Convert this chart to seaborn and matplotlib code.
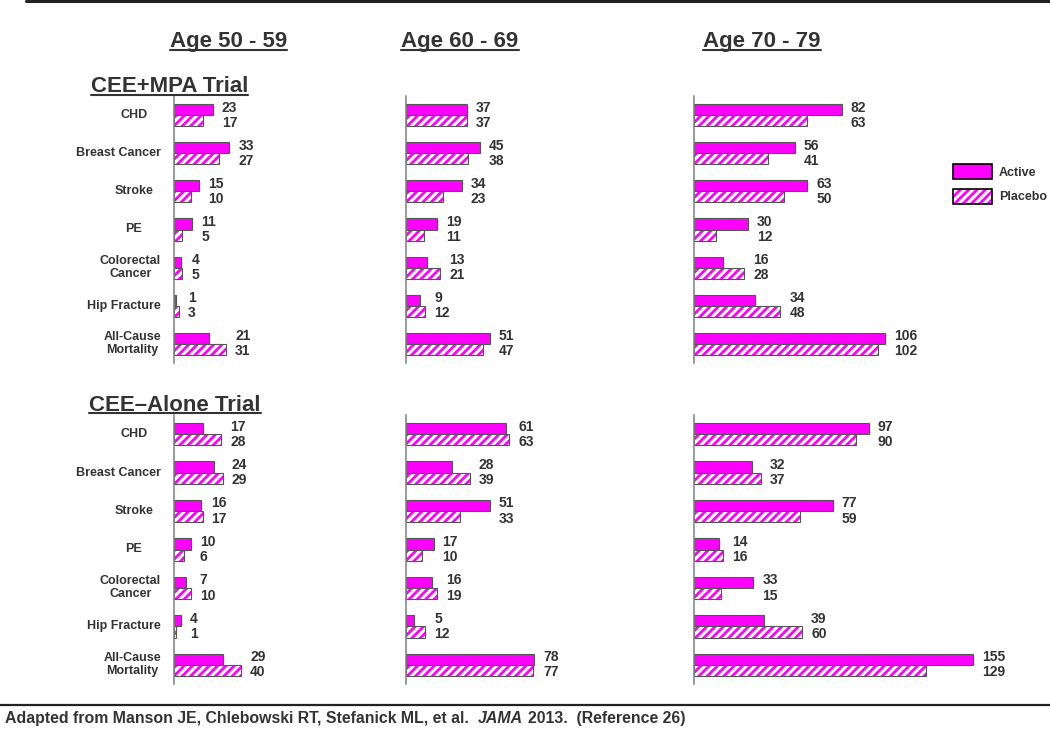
import numpy as np
import pandas as pd
import matplotlib
matplotlib.use("Agg")
import matplotlib.pyplot as plt
import matplotlib.transforms as mtransforms
from matplotlib.patches import Patch, Rectangle
from matplotlib.legend_handler import HandlerTuple
from matplotlib.lines import Line2D
import seaborn as sns

categories = ["CHD", "Breast Cancer", "Stroke", "PE", "Colorectal\nCancer",
              "Hip Fracture", "All-Cause\nMortality"]
age_groups = ["Age 50 - 59", "Age 60 - 69", "Age 70 - 79"]
trials = ["CEE+MPA Trial", "CEE\u2013Alone Trial"]
groups = ["Active", "Placebo"]

# CEE+MPA trial
mpa_50_active = [23, 33, 15, 11, 4, 1, 21]
mpa_50_placebo = [17, 27, 10, 5, 5, 3, 31]
mpa_60_active = [37, 45, 34, 19, 13, 9, 51]
mpa_60_placebo = [37, 38, 23, 11, 21, 12, 47]
mpa_70_active = [82, 56, 63, 30, 16, 34, 106]
mpa_70_placebo = [63, 41, 50, 12, 28, 48, 102]

# CEE-alone trial
cee_50_active = [17, 24, 16, 10, 7, 4, 29]
cee_50_placebo = [28, 29, 17, 6, 10, 1, 40]
cee_60_active = [61, 28, 51, 17, 16, 5, 78]
cee_60_placebo = [63, 39, 33, 10, 19, 12, 77]
cee_70_active = [97, 32, 77, 14, 33, 39, 155]
cee_70_placebo = [90, 37, 59, 16, 15, 60, 129]

panels = [
    [(mpa_50_active, mpa_50_placebo), (mpa_60_active, mpa_60_placebo), (mpa_70_active, mpa_70_placebo)],
    [(cee_50_active, cee_50_placebo), (cee_60_active, cee_60_placebo), (cee_70_active, cee_70_placebo)],
]

MAGENTA = "#FF00FF"
TXT = "#333333"
EDGE = "#555555"
HATCH = "////"

sns.set_style("white")
plt.rcParams["font.family"] = ["Liberation Sans", "DejaVu Sans"]
plt.rcParams["hatch.linewidth"] = 2.0

W, H = 1050, 733
fig = plt.figure(figsize=(W / 100, H / 100), dpi=100)


def fx(x):
    return x / W


def fy(y):
    return 1 - y / H


col_left = [174, 405.5, 694]
col_scale = [1.68, 1.65, 1.80]   # pixels per unit
col_width = [200, 250, 300]
row_top = [96, 415]
row_bot = [363, 684]

cat_texts = []
for r in range(2):
    for c in range(3):
        active, placebo = panels[r][c]
        df = pd.DataFrame({
            "cat": categories * 2,
            "group": ["Active"] * 7 + ["Placebo"] * 7,
            "value": active + placebo,
        })
        ax = fig.add_axes([fx(col_left[c]), fy(row_bot[r]),
                           col_width[c] / W, (row_bot[r] - row_top[r]) / H])
        sns.barplot(data=df, x="value", y="cat", hue="group", hue_order=groups,
                    order=categories, orient="h", palette={"Active": MAGENTA, "Placebo": "white"},
                    width=0.58, saturation=1, edgecolor=EDGE, linewidth=0.8,
                    errorbar=None, legend=False, ax=ax)
        # hatched placebo bars with grey outline
        for p in ax.containers[1]:
            p.set_facecolor("white")
            p.set_edgecolor(MAGENTA)
            p.set_hatch(HATCH)
            p.set_linewidth(0)
            ax.add_patch(Rectangle((p.get_x(), p.get_y()), p.get_width(), p.get_height(),
                                   fill=False, edgecolor=EDGE, lw=0.8))
        ax.set_xlim(0, col_width[c] / col_scale[c])
        ax.set_ylim(6.5, -0.5)
        ax.set_xticks([])
        ax.set_yticks([])
        ax.set_xlabel("")
        ax.set_ylabel("")
        for s in ["top", "right", "bottom"]:
            ax.spines[s].set_visible(False)
        ax.spines["left"].set_color("#7f7f7f")
        ax.spines["left"].set_linewidth(1.1)

        up = mtransforms.offset_copy(ax.transData, fig=fig, x=9, y=2, units="dots")
        down = mtransforms.offset_copy(ax.transData, fig=fig, x=9, y=-2, units="dots")
        for i, (pa, pp) in enumerate(zip(ax.containers[0], ax.containers[1])):
            xm = max(active[i], placebo[i])
            ax.text(xm, pa.get_y() + pa.get_height() / 2, str(active[i]), transform=up,
                    ha="left", va="center", fontsize=10, weight="bold", color=TXT, clip_on=False)
            ax.text(xm, pp.get_y() + pp.get_height() / 2, str(placebo[i]), transform=down,
                    ha="left", va="center", fontsize=10, weight="bold", color=TXT, clip_on=False)

        if c == 0:
            tr = mtransforms.blended_transform_factory(fig.transFigure, ax.transData)
            for i, lab in enumerate(categories):
                t = ax.text(fx(134), i, lab, transform=tr, ha="center", va="center",
                            fontsize=9, weight="bold", color=TXT, linespacing=1.1,
                            multialignment="center")
                cat_texts.append(t)

# titles
titles = []
for c, lab in enumerate(age_groups):
    x = [228.5, 460, 762][c]
    titles.append((fig.text(fx(x), fy(47), lab, ha="center", va="baseline", fontsize=16,
                            weight="bold", color=TXT), 47))
titles.append((fig.text(fx(91), fy(92), trials[0], ha="left", va="baseline", fontsize=16,
                        weight="bold", color=TXT), 92))
titles.append((fig.text(fx(89), fy(411), trials[1], ha="left", va="baseline", fontsize=16,
                        weight="bold", color=TXT), 411))

# legend
handles = [Patch(facecolor=MAGENTA, edgecolor="black", lw=1.2),
           (Patch(facecolor="white", edgecolor=MAGENTA, hatch=HATCH, lw=0),
            Patch(fill=False, edgecolor="black", lw=1.2))]
fig.legend(handles, groups, handler_map={tuple: HandlerTuple(ndivide=1)},
           loc="upper left", bbox_to_anchor=(fx(953), fy(164)), frameon=False,
           borderpad=0, borderaxespad=0, handlelength=3.1, handleheight=1.5,
           handletextpad=0.55, labelspacing=0.75,
           prop={"weight": "bold", "size": 9}, labelcolor=TXT)

# frame lines
fig.add_artist(Line2D([fx(26), 1], [fy(1), fy(1)], color="#222222", lw=2.2))
fig.add_artist(Line2D([0, 1], [fy(705), fy(705)], color="#222222", lw=1.6))

# footer
FOOT = 11.4
f1 = fig.text(fx(5), fy(723), "Adapted from Manson JE, Chlebowski RT, Stefanick ML, et al.",
              ha="left", va="baseline", fontsize=FOOT, weight="bold", color=TXT)

fig.canvas.draw()
renderer = fig.canvas.get_renderer()

# keep category labels clear of the axis
for t in cat_texts:
    bb = t.get_window_extent(renderer)
    if bb.x1 > 161:
        t.set_x(fx(134 - (bb.x1 - 161)))

for t, base in titles:
    bb = t.get_window_extent(renderer)
    fig.add_artist(Line2D([bb.x0 / W, bb.x1 / W], [fy(base + 2.5)] * 2,
                          color=TXT, lw=1.5))

bb = f1.get_window_extent(renderer)
f2 = fig.text((bb.x1 + 9) / W, fy(723), "JAMA", ha="left", va="baseline", fontsize=FOOT,
              weight="bold", style="italic", color=TXT)
bb2 = f2.get_window_extent(renderer)
fig.text((bb2.x1 + 5) / W, fy(723), "2013.  (Reference 26)", ha="left", va="baseline",
         fontsize=FOOT, weight="bold", color=TXT)

fig.savefig("out.png", dpi=100)
